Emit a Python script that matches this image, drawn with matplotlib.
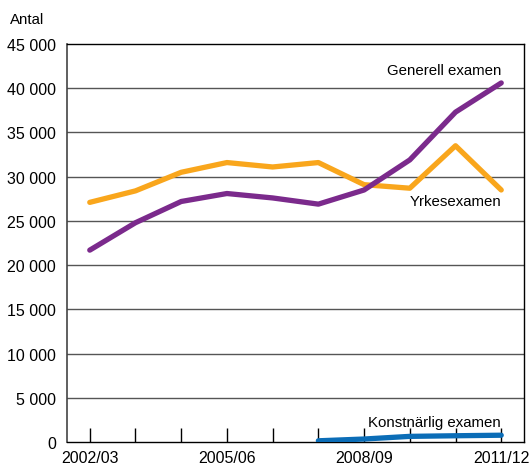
import matplotlib.pyplot as plt
import numpy as np

years = ["2002/03", "2003/04", "2004/05", "2005/06", "2006/07",
         "2007/08", "2008/09", "2009/10", "2010/11", "2011/12"]
generell = [21700, 24800, 27200, 28100, 27600, 26900, 28500, 31900, 37300, 40600]
yrkes = [27100, 28400, 30500, 31600, 31100, 31600, 29100, 28700, 33500, 28500]
konst_years = years[5:]
konst = [150, 350, 650, 720, 780]

yticks = list(range(0, 45001, 5000))
ytick_labels = ["0" if v == 0 else f"{v // 1000} 000" for v in yticks]
shown_years = ["2002/03", "2005/06", "2008/09", "2011/12"]

purple = "#7b2a8c"
orange = "#f9a61c"
blue = "#0b6db7"

plt.rcParams['font.family'] = ['Liberation Sans', 'DejaVu Sans']

fig = plt.figure(figsize=(5.31, 4.64), dpi=100)
ax = fig.add_axes([0.126, 0.045, 0.861, 0.858])

x = np.arange(len(years))
kx = np.arange(len(years) - len(konst_years), len(years))

for v in yticks[1:-1]:
    ax.axhline(v, color="#555555", lw=1.0, zorder=1)

ax.plot(x, yrkes, color=orange, lw=3.8, solid_capstyle="round", zorder=3)
ax.plot(x, generell, color=purple, lw=3.8, solid_capstyle="round", zorder=4)
ax.plot(kx, konst, color=blue, lw=3.8, solid_capstyle="round", zorder=4)

ax.set_xlim(-0.5, len(years) - 0.5)
ax.set_ylim(0, 45000)
ax.set_yticks(yticks)
ax.set_yticklabels(ytick_labels, fontsize=11.5)
ax.tick_params(axis="y", length=0, pad=8)
ax.set_xticks(x)
ax.set_xticklabels([y if y in shown_years else "" for y in years], fontsize=11.5)
ax.tick_params(axis="x", direction="in", length=10, width=1, pad=6)

for side in ["top", "bottom", "right"]:
    ax.spines[side].set_color("black")
    ax.spines[side].set_linewidth(1.0)
ax.spines["left"].set_color("#444444")
ax.spines["left"].set_linewidth(1.2)

ax.text(9, 42100, "Generell examen", ha="right", va="center", fontsize=10.8)
ax.text(9, 27300, "Yrkesexamen", ha="right", va="center", fontsize=10.8)
ax.text(9, 2300, "Konstnärlig examen", ha="right", va="center", fontsize=10.8)
fig.text(0.019, 0.957, "Antal", ha="left", va="center", fontsize=10.8)

fig.savefig("out.png", dpi=100)
